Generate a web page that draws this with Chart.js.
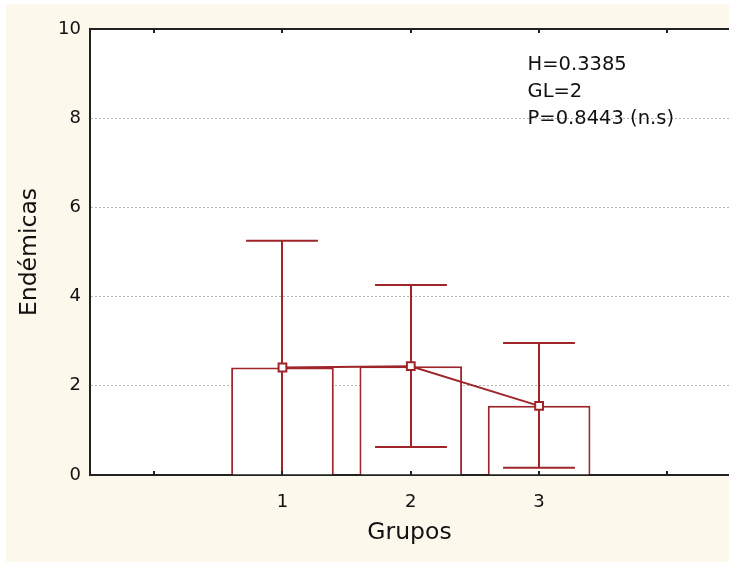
<!DOCTYPE html>
<html>
<head>
<meta charset="utf-8">
<script src="https://cdn.jsdelivr.net/npm/chart.js@4/dist/chart.umd.min.js"></script>
<style>
  html, body { margin: 0; padding: 0; background: #fff; overflow: hidden; }
  #wrap { width: 729px; height: 562px; }
</style>
</head>
<body>
<div id="wrap"><canvas id="chart"></canvas></div>
<script>
// Data
const groups = [1, 2, 3];
const means = [2.41, 2.44, 1.55];
const upper = [5.25, 4.26, 2.96];
const lower = [-0.43, 0.63, 0.16];
const yTicks = [0, 2, 4, 6, 8, 10];
const xTickMarks = [0, 1, 2, 3, 4];
const statsText = ['H=0.3385', 'GL=2', 'P=0.8443 (n.s)'];

const RED = '#9e2529';
const FONT = '"DejaVu Sans", "Liberation Sans", Arial, sans-serif';

const points = groups.map((g, i) => ({ x: g, y: means[i] }));

// background, frame, inner ticks, stats text
const frame = {
    id: 'frame',
    beforeDraw(chart) {
        const { ctx, chartArea: a } = chart;
        ctx.save();
        ctx.fillStyle = '#fdf8ec';
        ctx.fillRect(6, 4, chart.width - 6, chart.height - 4);
        ctx.fillStyle = '#ffffff';
        ctx.fillRect(a.left, a.top, a.right - a.left, a.bottom - a.top);
        ctx.restore();
    },
    afterDraw(chart) {
        const { ctx, chartArea: a, scales: { x, y } } = chart;
        ctx.save();
        ctx.strokeStyle = '#222';
        ctx.lineWidth = 2;
        ctx.beginPath();
        ctx.moveTo(a.left - 1, a.top);
        ctx.lineTo(a.right, a.top);
        ctx.stroke();
        xTickMarks.forEach(v => {
            const px = Math.round(x.getPixelForValue(v));
            ctx.beginPath();
            ctx.moveTo(px, a.bottom);
            ctx.lineTo(px, a.bottom - 4);
            ctx.moveTo(px, a.top);
            ctx.lineTo(px, a.top + 4);
            ctx.stroke();
        });
        ctx.fillStyle = '#111';
        ctx.font = '19.5px ' + FONT;
        ctx.textBaseline = 'middle';
        const tx = x.getPixelForValue(2.91);
        const ty = y.getPixelForValue(9.19);
        statsText.forEach((t, i) => ctx.fillText(t, tx, ty + i * 27));
        ctx.restore();
    }
};

// error bars, drawn after the bars and before the mean line
const errorBars = {
    id: 'errorBars',
    afterDatasetDraw(chart, args) {
        if (args.index !== 0) return;
        const { ctx, chartArea: a, scales: { x, y } } = chart;
        const bars = args.meta.data;
        ctx.save();
        ctx.beginPath();
        ctx.rect(a.left, a.top, a.right - a.left, a.bottom - a.top);
        ctx.clip();
        ctx.strokeStyle = RED;
        ctx.lineWidth = 2;
        groups.forEach((g, i) => {
            const px = Math.round(x.getPixelForValue(g));
            const half = bars[i].width * 0.35;
            const yu = y.getPixelForValue(upper[i]);
            const yl = y.getPixelForValue(lower[i]);
            ctx.beginPath();
            ctx.moveTo(px, yu);
            ctx.lineTo(px, yl);
            ctx.moveTo(px - half, yu);
            ctx.lineTo(px + half, yu);
            ctx.moveTo(px - half, yl);
            ctx.lineTo(px + half, yl);
            ctx.stroke();
        });
        ctx.restore();
    }
};

new Chart(document.getElementById('chart'), {
    data: {
        datasets: [
            {
                type: 'bar',
                data: points,
                backgroundColor: '#ffffff',
                borderColor: RED,
                borderWidth: 2,
                categoryPercentage: 0.8,
                barPercentage: 1,
                order: 2
            },
            {
                type: 'line',
                data: points,
                borderColor: RED,
                borderWidth: 2,
                pointStyle: 'rect',
                pointRadius: 5.5,
                pointBackgroundColor: '#ffffff',
                pointBorderColor: RED,
                pointBorderWidth: 2,
                order: 1
            }
        ]
    },
    options: {
        responsive: true,
        maintainAspectRatio: false,
        animation: false,
        layout: { autoPadding: false, padding: { left: 0, top: 29, right: 0, bottom: 0 } },
        plugins: { legend: { display: false }, tooltip: { enabled: false } },
        scales: {
            x: {
                type: 'linear',
                offset: false,
                min: -0.5,
                max: 4.48,
                afterBuildTicks: s => { s.ticks = groups.map(v => ({ value: v })); },
                afterFit: s => { s.height = 87; s.paddingRight = 0; s.paddingLeft = 0; },
                grid: { display: false },
                border: { display: true, color: '#222', width: 2 },
                ticks: { color: '#111', padding: 9, font: { family: FONT, size: 18 } },
                title: {
                    display: true, text: 'Grupos', color: '#111',
                    font: { family: FONT, size: 23.5 }, padding: { top: 0, bottom: 15 }
                }
            },
            y: {
                min: 0,
                max: 10,
                afterBuildTicks: s => { s.ticks = yTicks.map(v => ({ value: v })); },
                afterFit: s => { s.width = 90; },
                grid: {
                    drawTicks: false,
                    color: c => (c.tick && c.tick.value > 0 && c.tick.value < 10) ? '#b5b5b5' : 'rgba(0,0,0,0)',
                    lineWidth: 1
                },
                border: { display: true, color: '#222', width: 2, dash: [2, 2] },
                ticks: { color: '#111', padding: 9, font: { family: FONT, size: 18 } },
                title: {
                    display: true, text: 'Endémicas', color: '#111',
                    font: { family: FONT, size: 23.5 }, padding: { top: 16, bottom: 0 }
                }
            }
        }
    },
    plugins: [frame, errorBars]
});
</script>
</body>
</html>
